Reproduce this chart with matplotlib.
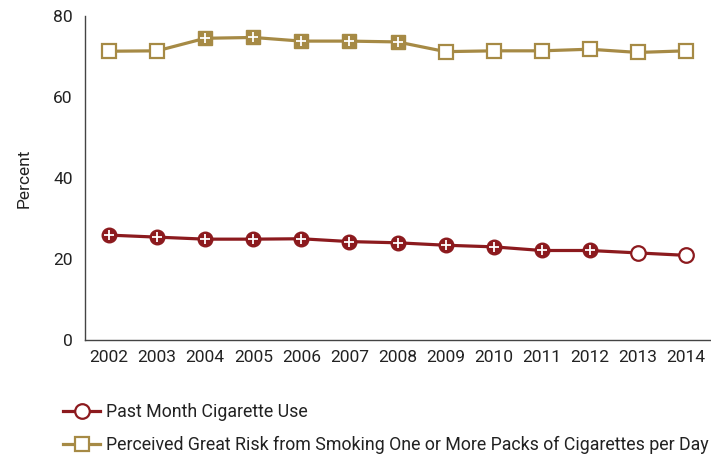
import matplotlib
matplotlib.use("Agg")
import matplotlib.pyplot as plt
from matplotlib.lines import Line2D
import numpy as np

plt.rcParams["font.family"] = ["Roboto", "DejaVu Sans"]

years = [2002, 2003, 2004, 2005, 2006, 2007, 2008, 2009, 2010, 2011, 2012, 2013, 2014]
cig_use = [25.9, 25.4, 24.9, 24.9, 25.0, 24.3, 24.0, 23.4, 23.0, 22.1, 22.1, 21.5, 20.9]
great_risk = [71.3, 71.4, 74.5, 74.7, 73.8, 73.8, 73.6, 71.2, 71.4, 71.4, 71.8, 71.0, 71.4]
# significant difference from 2014 (filled markers with a plus)
cig_sig = [True] * 11 + [False, False]
risk_sig = [False, False, True, True, True, True, True, False, False, False, False, False, False]

labels = ["Past Month Cigarette Use",
          "Perceived Great Risk from Smoking One or More Packs of Cigarettes per Day"]

red = "#8C1A1E"
gold = "#A68A45"

fig = plt.figure(figsize=(7.11, 4.54), dpi=100)
ax = fig.add_axes([85 / 711, 114 / 454, 625 / 711, 324 / 454])


def draw_series(vals, sig, color, marker, ms):
    x = np.array(years)
    v = np.array(vals)
    s = np.array(sig)
    ax.plot(x, v, "-", color=color, lw=2.3, zorder=2)
    ax.plot(x[~s], v[~s], marker, color=color, ms=ms, mfc="white",
            mec=color, mew=1.6, ls="none", zorder=3)
    ax.plot(x[s], v[s], marker, color=color, ms=ms, mfc=color,
            mec=color, mew=1.0, ls="none", zorder=3)
    ax.plot(x[s], v[s], "+", color="white", ms=ms * 0.7, mew=1.3,
            ls="none", zorder=4)


draw_series(cig_use, cig_sig, red, "o", 10.5)
draw_series(great_risk, risk_sig, gold, "s", 10.5)

ax.set_xlim(2001.5, 2014.5)
ax.set_ylim(0, 80)
ax.set_xticks(years)
ax.set_yticks([0, 20, 40, 60, 80])
ax.tick_params(length=0, labelsize=12.5, colors="#222222", pad=9)
ax.tick_params(axis="x", pad=7)
for side in ["top", "right"]:
    ax.spines[side].set_visible(False)
for side in ["left", "bottom"]:
    ax.spines[side].set_color("#444444")
    ax.spines[side].set_linewidth(1.0)
ax.set_ylabel("Percent", fontsize=12.5, color="#222222", labelpad=15)

handles = [
    Line2D([], [], color=red, lw=2.3, marker="o", ms=10.5, mfc="white", mec=red, mew=1.6),
    Line2D([], [], color=gold, lw=2.3, marker="s", ms=10.5, mfc="white", mec=gold, mew=1.6),
]
fig.legend(handles, labels, loc="upper left", bbox_to_anchor=(54 / 711, 1 - 394 / 454),
           frameon=False, fontsize=12.8, handlelength=2.1, handletextpad=0.3,
           labelspacing=0.85, borderpad=0, labelcolor="#222222")

fig.savefig("out.png", dpi=100)
